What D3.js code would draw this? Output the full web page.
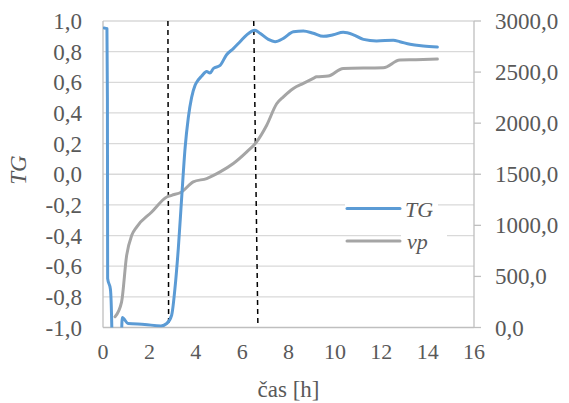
<!DOCTYPE html>
<html><head><meta charset="utf-8">
<script src="https://cdn.jsdelivr.net/npm/d3@7"></script>
</head>
<body style="margin:0;background:#fff">
<svg id="c" width="569" height="403" style="display:block"></svg>
<script>
// ---- data ----
const tgData = [[0.05,0.955],[0.17,0.95],[0.19,0.5],[0.2,-0.68],[0.32,-0.75],[0.38,-1.0],[0.42,-1.4],[0.76,-1.4],[0.8,-1.05],[0.83,-0.935],[1.08,-0.974],[1.8,-0.98],[2.5,-0.99],[2.75,-0.974],[2.96,-0.92],[3.1,-0.75],[3.25,-0.48],[3.39,-0.16],[3.54,0.17],[3.68,0.37],[3.82,0.50],[3.97,0.58],[4.04,0.60],[4.25,0.64],[4.47,0.67],[4.61,0.66],[4.76,0.69],[5.05,0.71],[5.33,0.78],[5.62,0.82],[5.91,0.865],[6.2,0.91],[6.55,0.94],[6.77,0.92],[7.13,0.88],[7.42,0.865],[7.78,0.887],[8.21,0.93],[8.64,0.935],[9.07,0.92],[9.5,0.90],[9.93,0.91],[10.36,0.926],[10.8,0.91],[11.23,0.88],[11.8,0.87],[12.52,0.874],[12.8,0.865],[13.24,0.848],[13.81,0.837],[14.42,0.83]];
const vpData = [[0.52,105],[0.8,248],[1.02,706],[1.24,902],[1.45,983],[2.1,1130],[2.75,1277],[2.96,1294],[3.39,1327],[3.89,1425],[4.47,1458],[5.05,1523],[5.62,1605],[6.2,1719],[6.6,1810],[7.06,1980],[7.49,2190],[7.78,2258],[8.21,2340],[8.64,2389],[9.07,2438],[9.21,2454],[9.71,2461],[10.36,2536],[12.09,2542],[12.8,2618],[13.5,2621],[14.42,2627]];
const xTicks = [0,2,4,6,8,10,12,14,16];
const yLeftTicks = [-1,-0.8,-0.6,-0.4,-0.2,0,0.2,0.4,0.6,0.8,1];
const yRightTicks = [0,500,1000,1500,2000,2500,3000];
const dashLines = [[2.8,2.83],[6.5,6.68]];
const seriesNames = ["TG","vp"];
const xTitle = "čas [h]";
const yTitle = "TG";

// ---- layout ----
const L=103, R=474, T=21, B=327.5;
const svg = d3.select("#c");
const x = d3.scaleLinear().domain([0,16]).range([L,R]);
const yL = d3.scaleLinear().domain([-1,1]).range([B,T]);
const yR = d3.scaleLinear().domain([0,3000]).range([B,T]);
const fmt1 = d => d3.format(".1f")(d).replace(".",",").replace("−","-");
function addText(xp, yp, str, size, anchor, italic, rot){
  const t = svg.append("text")
    .style("font-family",'"Times New Roman"')
    .attr("font-size",size).attr("fill","#595959").attr("text-anchor",anchor)
    .text(str);
  if (rot) t.attr("transform",`translate(${xp},${yp}) rotate(-90)`);
  else t.attr("x",xp).attr("y",yp);
  if (italic) t.attr("font-style","italic");
  return t;
}

// gridlines
svg.append("g").selectAll("line").data(yLeftTicks.filter(d=>d>-1)).join("line")
  .attr("x1",L).attr("x2",R).attr("y1",d=>yL(d)).attr("y2",d=>yL(d))
  .attr("stroke","#d9d9d9").attr("stroke-width",1.3);

// axes lines
svg.append("line").attr("x1",L).attr("x2",R).attr("y1",B).attr("y2",B).attr("stroke","#bfbfbf").attr("stroke-width",1.3);
svg.append("line").attr("x1",L).attr("x2",L).attr("y1",T).attr("y2",B).attr("stroke","#bfbfbf").attr("stroke-width",1.3);
svg.append("line").attr("x1",R).attr("x2",R).attr("y1",T).attr("y2",B).attr("stroke","#bfbfbf").attr("stroke-width",1.3);
svg.append("g").selectAll("line").data(yRightTicks).join("line")
  .attr("x1",R).attr("x2",R+7).attr("y1",d=>yR(d)).attr("y2",d=>yR(d)).attr("stroke","#bfbfbf").attr("stroke-width",1.3);

// tick labels as plain texts
yRightTicks.forEach(d=>addText(R+21, yR(d)+8, fmt1(d), 23, "start"));
yLeftTicks.forEach(d=>addText(L-21, yL(d)+8, fmt1(d), 23, "end"));
xTicks.forEach(d=>addText(x(d), B+31, String(d), 22, "middle"));

// clip
svg.append("clipPath").attr("id","clip").append("rect").attr("x",L).attr("y",T-3).attr("width",R-L).attr("height",B-T+3);

// dashed lines
svg.append("g").selectAll("line").data(dashLines).join("line")
  .attr("x1",d=>x(d[0])).attr("x2",d=>x(d[1])).attr("y1",yL(1)).attr("y2",yL(-0.99))
  .attr("stroke","#000").attr("stroke-width",1.5).attr("stroke-dasharray","5,4");

const lineL = d3.line().x(d=>x(d[0])).y(d=>yL(d[1])).curve(d3.curveMonotoneX);
const lineR = d3.line().x(d=>x(d[0])).y(d=>yR(d[1])).curve(d3.curveMonotoneX);

svg.append("path").attr("d",lineR(vpData)).attr("fill","none").attr("stroke","#a5a5a5")
  .attr("stroke-width",3).attr("stroke-linecap","round").attr("clip-path","url(#clip)");
svg.append("path").attr("d",lineL(tgData)).attr("fill","none").attr("stroke","#5b9bd5")
  .attr("stroke-width",3).attr("stroke-linecap","round").attr("stroke-linejoin","round").attr("clip-path","url(#clip)");

// legend
svg.append("rect").attr("x",345).attr("y",198).attr("width",93).attr("height",24).attr("fill","#fff");
svg.append("rect").attr("x",401).attr("y",228).attr("width",46).attr("height",26).attr("fill","#fff");
const legColors = ["#5b9bd5","#a5a5a5"];
const legY = [208.5,241];
seriesNames.forEach((n,i)=>{
  svg.append("line").attr("x1",347).attr("x2",400).attr("y1",legY[i]).attr("y2",legY[i])
    .attr("stroke",legColors[i]).attr("stroke-width",3).attr("stroke-linecap","round");
  addText(i===0?405:407, legY[i]+8, n, 22, "start", true);
});

// titles
addText((L+R)/2, 397, xTitle, 23, "middle");
addText(26, 170, yTitle, 23, "middle", true, true);
</script>
</body></html>
